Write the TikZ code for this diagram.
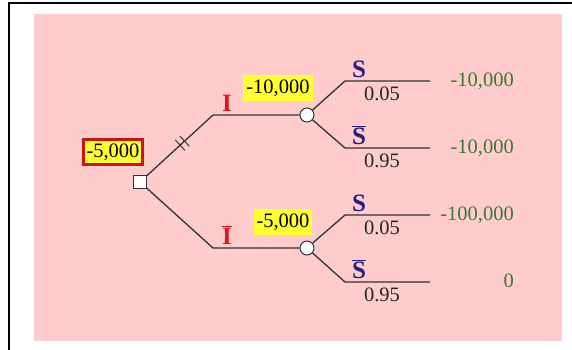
\documentclass[tikz,border=0pt]{standalone}
\usepackage{fontspec}
\setmainfont{Liberation Serif}
\usetikzlibrary{calc}

\definecolor{bgpink}{RGB}{255,204,204}
\definecolor{hiyellow}{RGB}{255,255,50}
\definecolor{boxred}{RGB}{200,20,20}
\definecolor{actred}{RGB}{222,24,24}
\definecolor{evnavy}{RGB}{40,30,130}
\definecolor{payg}{RGB}{60,120,50}
\definecolor{linegray}{RGB}{50,50,50}

\newcommand{\barred}[1]{$\overline{\mbox{#1}}$}

\tikzset{
  branch/.style={draw=linegray,line width=1.3pt},
  decbox/.style={draw=linegray,fill=white,minimum size=13pt,inner sep=0pt,line width=1pt},
  chnode/.style={circle,draw=linegray,fill=white,minimum size=14pt,inner sep=0pt,line width=1pt},
  valbox/.style={fill=hiyellow,inner xsep=3pt,inner ysep=5pt,font=\fontsize{20.5}{22}\selectfont},
  rootbox/.style={valbox,draw=boxred,line width=3pt,inner ysep=4pt},
  actlab/.style={text=actred,anchor=base,inner sep=0pt,font=\bfseries\fontsize{25}{27}\selectfont},
  evlab/.style={text=evnavy,anchor=base,inner sep=0pt,font=\bfseries\fontsize{25}{27}\selectfont},
  prob/.style={text=black!85,anchor=base,inner sep=0pt,font=\fontsize{20.5}{22}\selectfont},
  payoff/.style={text=payg,anchor=base east,inner sep=0pt,font=\fontsize{20.5}{22}\selectfont}
}

\begin{document}
\begin{tikzpicture}[x=1pt,y=-1pt]
	\useasboundingbox (0,0) rectangle (572,349);
	\fill[bgpink] (34,14) rectangle (562,341);
	\draw[line width=1.5pt] (9,352) -- (9,3) -- (575,3);
	% decision node and its two actions
	\coordinate (kI) at (213,115);
	\coordinate (kNI) at (213,248);
	\node[chnode] (chI) at (307,115) {};
	\node[chnode] (chNI) at (307,248) {};
	\draw[branch] (140,182) -- (kI) -- (chI);
	\draw[branch] (140,182) -- (kNI) -- (chNI);
	\node[decbox] (dec) at (140,182) {};
	\node[rootbox] (rootval) at (113,152) {-5,000};
	\node[actlab] (aI) at (227,111) {I};
	\node[actlab] (aNI) at (227,244) {\barred{I}};
	\node[valbox] (vI) at (278,88) {-10,000};
	\node[valbox] (vNI) at (283,222) {-5,000};
	% blocked branch
	\coordinate (t1) at ($(dec)!0.55!(kI)$);
	\coordinate (t2) at ($(dec)!0.61!(kI)$);
	\foreach \t in {t1,t2}
		\draw[branch,line width=1pt] ($(\t)!7pt!90:(kI)$) -- ($(\t)!7pt!-90:(kI)$);
	% chance branches
	\coordinate (kIS) at (345,81);   \coordinate (eIS) at (430,81);
	\coordinate (kINS) at (345,148); \coordinate (eINS) at (430,148);
	\coordinate (kNIS) at (345,215); \coordinate (eNIS) at (430,215);
	\coordinate (kNINS) at (345,282);\coordinate (eNINS) at (430,282);
	\draw[branch] (chI) -- (kIS) -- (eIS);
	\draw[branch] (chI) -- (kINS) -- (eINS);
	\draw[branch] (chNI) -- (kNIS) -- (eNIS);
	\draw[branch] (chNI) -- (kNINS) -- (eNINS);
	\node[evlab] (sIS) at (359,77) {S};
	\node[evlab] (sINS) at (359,144) {\barred{S}};
	\node[evlab] (sNIS) at (359,211) {S};
	\node[evlab] (sNINS) at (359,278) {\barred{S}};
	\node[prob] (pIS) at (382,100) {0.05};
	\node[prob] (pINS) at (382,167) {0.95};
	\node[prob] (pNIS) at (382,234) {0.05};
	\node[prob] (pNINS) at (382,301) {0.95};
	% payoffs
	\node[payoff] (oIS) at (514,86) {-10,000};
	\node[payoff] (oINS) at (514,153) {-10,000};
	\node[payoff] (oNIS) at (514,220) {-100,000};
	\node[payoff] (oNINS) at (514,287) {0};
\end{tikzpicture}
\end{document}
